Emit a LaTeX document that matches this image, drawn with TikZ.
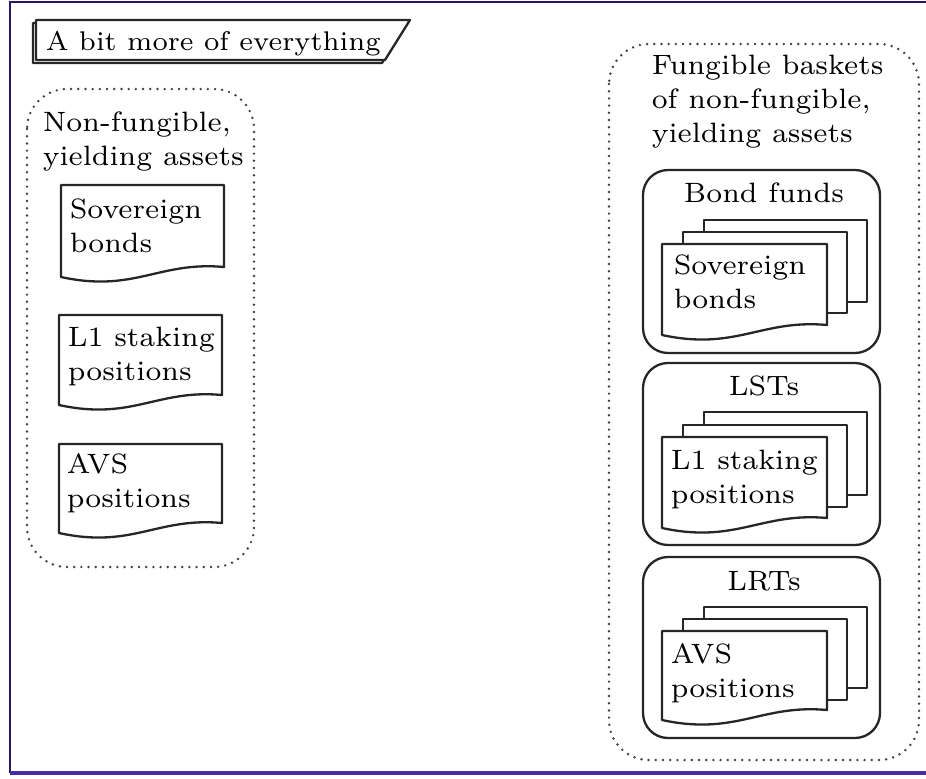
\documentclass[tikz,border=0pt]{standalone}
\usepackage{tikz}
\definecolor{frameA}{RGB}{42,22,98}
\definecolor{frameB}{RGB}{72,44,165}
\tikzset{
  px/.style={x=0.5pt,y=-0.5pt},
  solidline/.style={draw=black!85, line width=1.15pt, line join=round},
  dotline/.style={draw=black!75, line width=1.35pt, line cap=round, dash pattern=on 0pt off 3.6pt, rounded corners=20pt},
  fundbox/.style={solidline, rounded corners=12.5pt},
  txt/.style={inner sep=0pt, scale=2.0, transform shape, font=\fontsize{7}{8.5}\selectfont},
  lbl/.style={txt, anchor=base west, align=left},
  clbl/.style={txt, anchor=base},
}
\newcommand\docsheet[4]{%
  \pgfmathsetmacro\dw{#3-#1}%
  \draw[solidline, fill=white] (#1,#2) -- (#3,#2) -- (#3,#4)
    .. controls ({#3-0.4*\dw},{#4-6}) and ({#1+0.45*\dw},{#4+26}) .. (#1,{#4+10}) -- cycle;}
\newcommand\plainsheet[4]{%
  \draw[solidline, fill=white] (#1,#2) rectangle (#3,#4);}
\begin{document}
\begin{tikzpicture}[px]
\useasboundingbox (0,0) rectangle (926,778);
% frame
\draw[frameA, line width=1.1pt] (10,773) -- (10,2) -- (926,2);
\draw[frameB, line width=2pt] (10,773) -- (926,773);

% title flag
\draw[solidline, fill=white] (33,23) -- (407,23) -- (382,63) -- (33,63) -- cycle;
\draw[solidline, fill=white] (36,20) -- (410,20) -- (385,60) -- (36,60) -- cycle;
\node[lbl, scale=0.965] (title) at (45,50) {A bit more of everything};

% left container
\draw[dotline] (27,89) rectangle (254,567);
\node[lbl] (nfhead) at (42,165) {Non-fungible,\\yielding assets};

\docsheet{61}{185}{224}{267}
\node[lbl] (lsov) at (69,252) {Sovereign\\bonds};
\docsheet{59}{315}{222}{395}
\node[lbl] (lstk) at (67,380) {L1 staking\\positions};
\docsheet{59}{444}{222}{523}
\node[lbl] (lavs) at (66,507) {AVS\\positions};

% right container
\draw[dotline] (609,44) rectangle (919,760);
\node[lbl] (fhead) at (651,142) {Fungible baskets\\of non-fungible,\\yielding assets};

% Bond funds
\draw[fundbox] (643,170) rectangle (880,353);
\node[clbl] (bondf) at (764,202) {Bond funds};
\plainsheet{704}{220}{867}{302}
\plainsheet{683}{232}{847}{313}
\docsheet{662}{244}{827}{325}
\node[lbl] (rsov) at (673,308) {Sovereign\\bonds};

% LSTs
\draw[fundbox] (643,363) rectangle (880,545);
\node[clbl] (lsts) at (764,395) {LSTs};
\plainsheet{704}{412}{867}{495}
\plainsheet{683}{425}{847}{507}
\docsheet{662}{437}{827}{518}
\node[lbl] (rstk) at (670,503) {L1 staking\\positions};

% LRTs
\draw[fundbox] (643,557) rectangle (880,738);
\node[clbl] (lrts) at (764,590) {LRTs};
\plainsheet{704}{607}{867}{688}
\plainsheet{683}{619}{847}{700}
\docsheet{662}{631}{827}{710}
\node[lbl] (ravs) at (670,697) {AVS\\positions};
\end{tikzpicture}
\end{document}
